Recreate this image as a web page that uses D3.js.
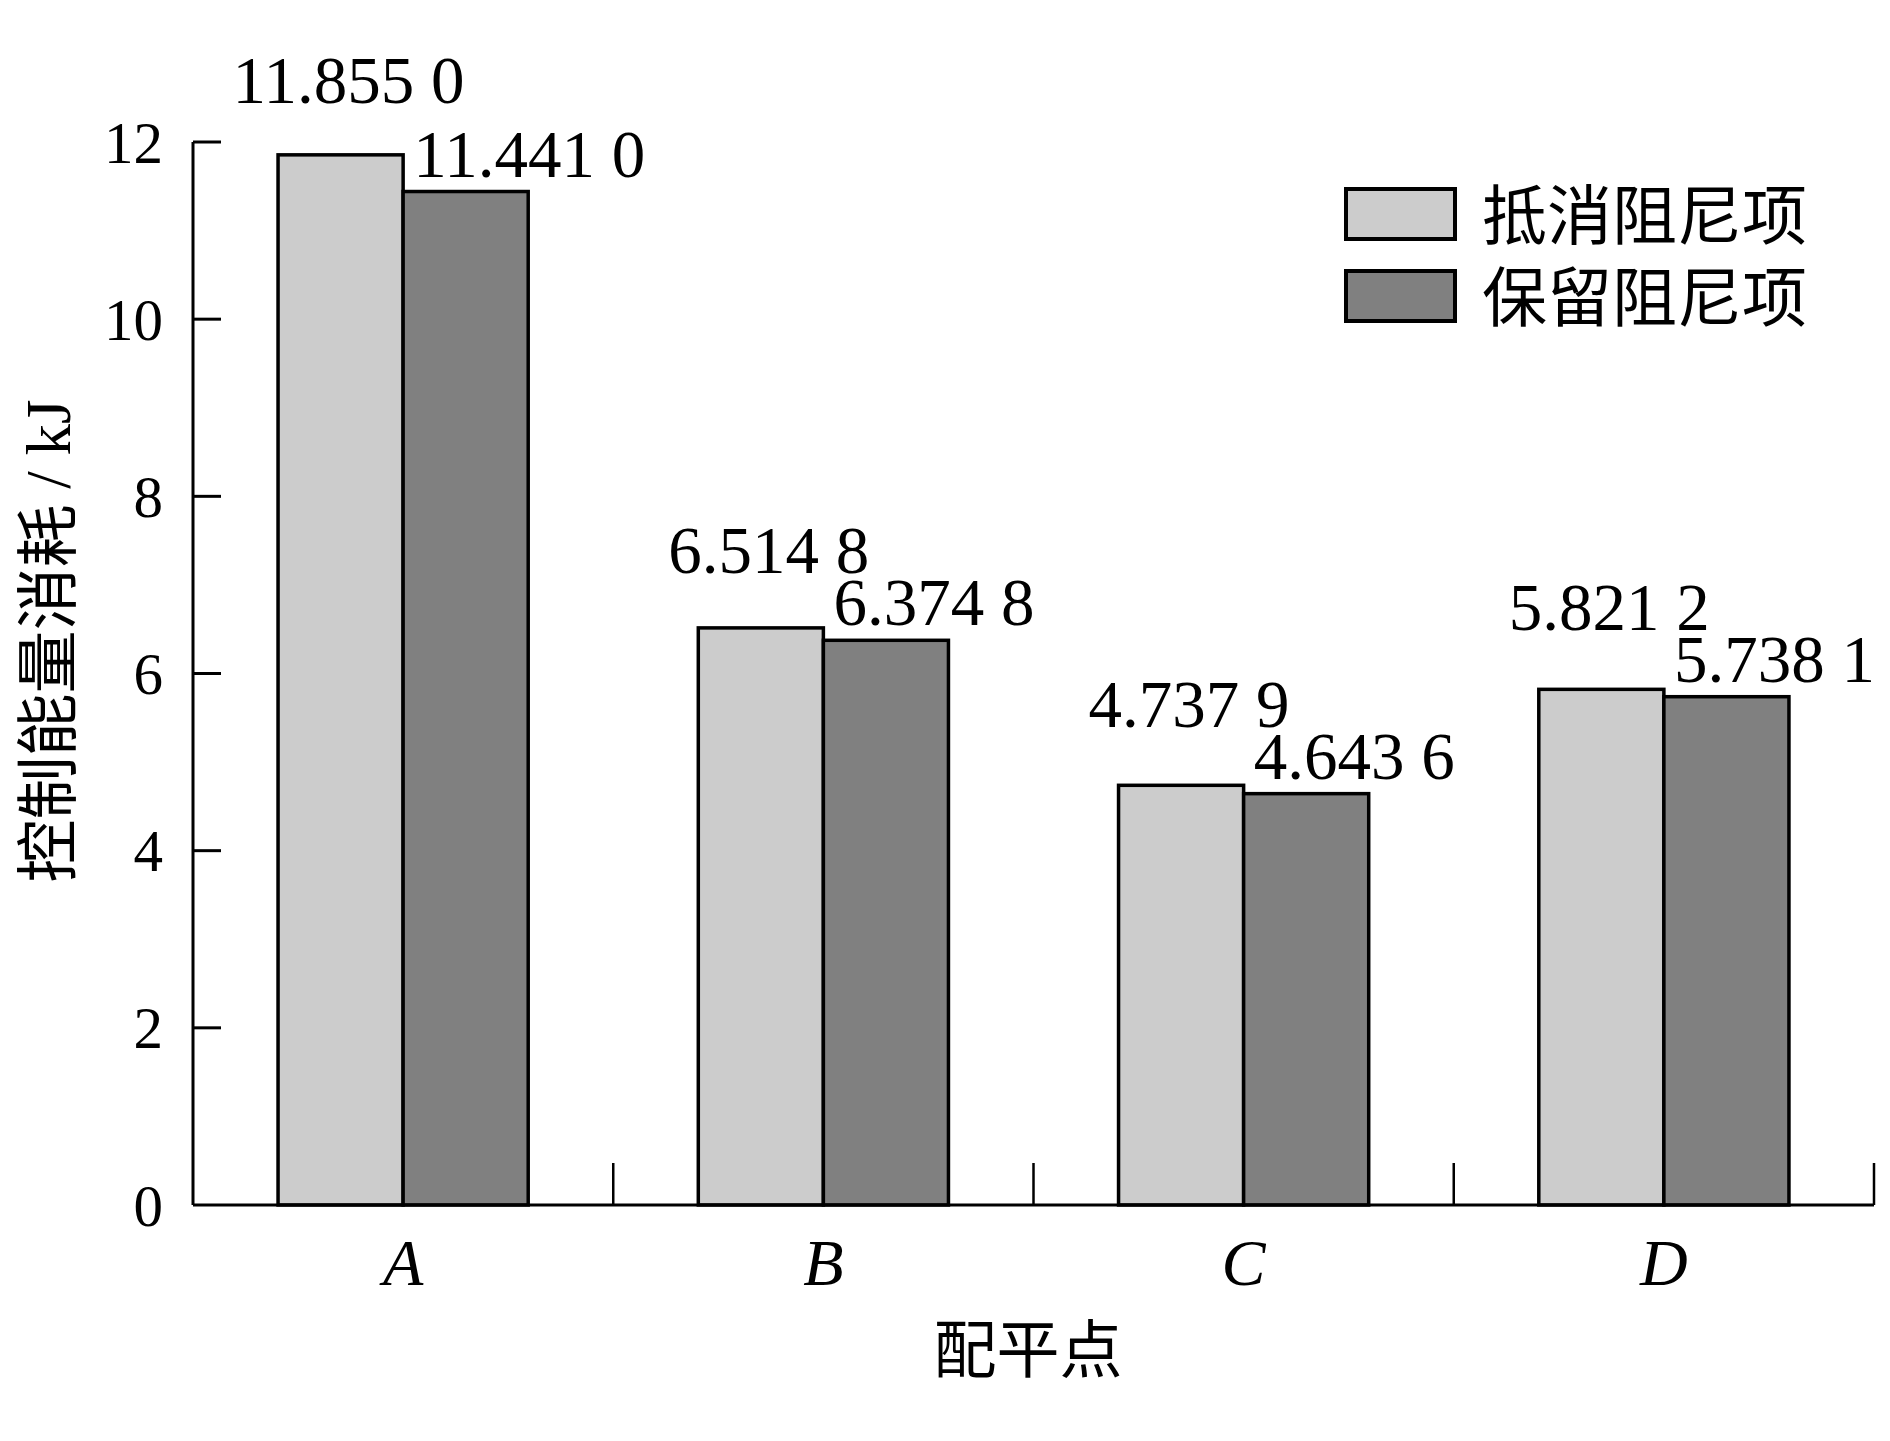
<!DOCTYPE html>
<html>
<head>
<meta charset="utf-8">
<script src="https://cdn.jsdelivr.net/npm/d3@7"></script>
<style>
  body { margin: 0; background: #fff; }
  text { font-family: "Liberation Serif", "Noto Sans CJK SC", serif; fill: #000; }
  .cjk { font-family: "Noto Sans CJK SC", sans-serif; }
</style>
</head>
<body>
<div id="chart"></div>
<script>
var width = 1890,
    height = 1441;

// data
const categories = ["A", "B", "C", "D"];
const seriesNames = ["抵消阻尼项", "保留阻尼项"];
const cancelDamping = [11.8550, 6.5148, 4.7379, 5.8212];
const keepDamping = [11.4410, 6.3748, 4.6436, 5.7381];
const yTicks = [0, 2, 4, 6, 8, 10, 12];
const colors = ["#cccccc", "#808080"];

const rows = categories.map((c, i) => ({ cat: c, values: [cancelDamping[i], keepDamping[i]] }));

const margin = { left: 193, right: 16, top: 142, bottom: 236 };
const x0 = margin.left, x1 = width - margin.right;
const yBottom = height - margin.bottom;

var svg = d3.select("#chart")
    .append("svg")
    .attr("width", width)
    .attr("height", height);

svg.append("rect").attr("width", width).attr("height", height).attr("fill", "#fff");

const x = d3.scaleBand()
    .domain(categories)
    .range([x0, x1])
    .padding(0);

const xSub = d3.scaleBand()
    .domain([0, 1])
    .range([0, x.bandwidth()])
    .paddingInner(0)
    .paddingOuter(0.68);

const y = d3.scaleLinear()
    .domain([0, 12])
    .range([yBottom, margin.top]);

// format like "11.855 0"
const fmt = v => {
    const s = d3.format(".4f")(v);
    return s.slice(0, -1) + " " + s.slice(-1);
};

// label baselines: dark label just above its bar, light label above both
const darkBase = v => y(v) - 15;
const lightBase = (a, b) => Math.min(y(a) - 52, darkBase(b) - 52);

// bars
const groups = svg.selectAll(".grp")
    .data(rows)
    .join("g")
    .attr("class", "grp")
    .attr("transform", d => `translate(${x(d.cat)},0)`);

groups.selectAll("rect")
    .data(d => d.values.map((v, i) => ({ v: v, i: i })))
    .join("rect")
    .attr("x", d => xSub(d.i))
    .attr("y", d => y(d.v))
    .attr("width", xSub.bandwidth())
    .attr("height", d => yBottom - y(d.v))
    .attr("fill", d => colors[d.i])
    .attr("stroke", "#000")
    .attr("stroke-width", 3.5);

// value labels
groups.selectAll(".val")
    .data(d => d.values.map((v, i) => ({ v: v, i: i, row: d })))
    .join("text")
    .attr("class", "val")
    .attr("x", d => d.i === 0 ? xSub(0) + xSub.bandwidth() / 2 + 8 : xSub(1) + 10)
    .attr("y", d => d.i === 0 ? lightBase(d.row.values[0], d.row.values[1]) : darkBase(d.v))
    .attr("text-anchor", d => d.i === 0 ? "middle" : "start")
    .attr("font-size", "67px")
    .text(d => fmt(d.v));

// y axis
const yAxis = svg.append("g");
yAxis.append("line")
    .attr("x1", x0).attr("x2", x0)
    .attr("y1", y(12)).attr("y2", yBottom)
    .attr("stroke", "#000").attr("stroke-width", 3);

yAxis.selectAll(".ytick")
    .data(yTicks.filter(d => d > 0))
    .join("line")
    .attr("x1", x0).attr("x2", x0 + 28)
    .attr("y1", d => y(d)).attr("y2", d => y(d))
    .attr("stroke", "#000").attr("stroke-width", 3);

yAxis.selectAll(".ylab")
    .data(yTicks)
    .join("text")
    .attr("x", x0 - 30)
    .attr("y", d => y(d))
    .attr("dy", "0.35em")
    .attr("text-anchor", "end")
    .attr("font-size", "59px")
    .text(d => d);

// x axis
svg.append("line")
    .attr("x1", x0).attr("x2", x1)
    .attr("y1", yBottom).attr("y2", yBottom)
    .attr("stroke", "#000").attr("stroke-width", 3);

svg.selectAll(".xsep")
    .data(categories)
    .join("line")
    .attr("x1", d => x(d) + x.bandwidth()).attr("x2", d => x(d) + x.bandwidth())
    .attr("y1", yBottom).attr("y2", yBottom - 42)
    .attr("stroke", "#000").attr("stroke-width", 2.5);

svg.selectAll(".xlab")
    .data(categories)
    .join("text")
    .attr("x", d => x(d) + x.bandwidth() / 2)
    .attr("y", yBottom + 80)
    .attr("text-anchor", "middle")
    .attr("font-size", "66px")
    .attr("font-style", "italic")
    .text(d => d);

// axis titles
svg.append("text")
    .attr("class", "cjk")
    .attr("x", 1028)
    .attr("y", 1350)
    .attr("dy", "0.35em")
    .attr("text-anchor", "middle")
    .attr("font-size", "63px")
    .text("配平点");

svg.append("text")
    .attr("transform", "translate(48,641) rotate(-90)")
    .attr("dy", "0.35em")
    .attr("text-anchor", "middle")
    .attr("font-size", "63px")
    .text("控制能量消耗 / kJ");

// legend
const legend = svg.append("g").attr("transform", "translate(1346,189)");
const leg = legend.selectAll("g")
    .data(seriesNames)
    .join("g")
    .attr("transform", (d, i) => `translate(0,${i * 82})`);

leg.append("rect")
    .attr("width", 109).attr("height", 50)
    .attr("fill", (d, i) => colors[i])
    .attr("stroke", "#000").attr("stroke-width", 4);

leg.append("text")
    .attr("class", "cjk")
    .attr("x", 136)
    .attr("y", 27)
    .attr("dy", "0.35em")
    .attr("font-size", "65px")
    .text(d => d);
</script>
</body>
</html>
